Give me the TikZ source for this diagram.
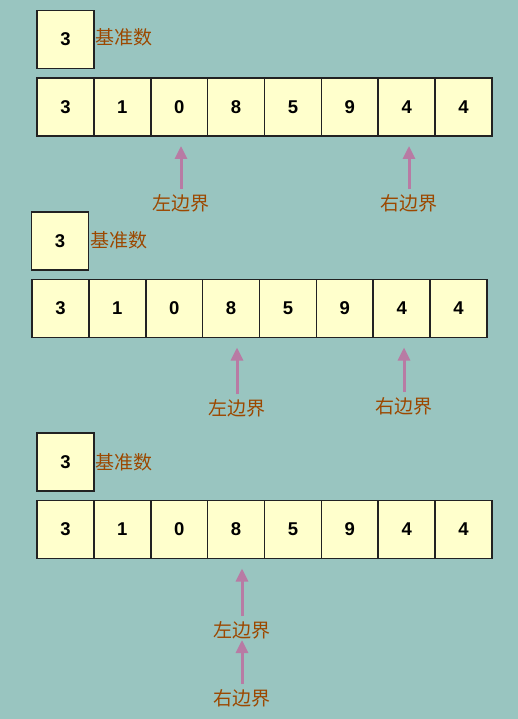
\documentclass[tikz,border=0pt]{standalone}
\usepackage{fontspec}
\setmainfont{Liberation Sans}
\newfontfamily\cjk{Noto Sans CJK SC}
\usepackage{xcolor}
\usetikzlibrary{arrows.meta,positioning}
\definecolor{bgteal}{HTML}{99C5C0}
\definecolor{cellyellow}{HTML}{FFFFCC}
\definecolor{cellborder}{HTML}{222222}
\definecolor{tagbrown}{HTML}{9C4800}
\definecolor{arrowpink}{HTML}{B87BA4}

\begin{document}
\begin{tikzpicture}[x=1pt, y=-1pt, >={Triangle[width=12pt,length=13pt]},
  every node/.style={font=\fontsize{18.5}{18.5}\selectfont\bfseries},
  cell/.style={rectangle, draw=cellborder, line width=1.6pt, fill=cellyellow, minimum width=56.9pt, minimum height=58pt, inner sep=0pt, outer sep=0pt},
  pivot/.style={cell, minimum width=57pt},
  tag/.style={font=\cjk\fontsize{19}{19}\selectfont, text=tagbrown, inner sep=0pt},
  pointer/.style={->, line width=3pt, draw=arrowpink, fill=arrowpink, shorten <=5pt, shorten >=10pt}
]

% Background
\fill[bgteal] (0,0) rectangle (518,719);
\useasboundingbox (0,0) rectangle (518,719);

% First step - pivot and array
\node[pivot] (pa) at (65.5,39.5) {3};
\node[tag, anchor=west] (basea) at (95,37) {基准数};
\node[cell] (ra0) at (65.4,107) {3};
\node[cell] (ra1) at (122.3,107) {1};
\node[cell] (ra2) at (179.2,107) {0};
\node[cell] (ra3) at (236.1,107) {8};
\node[cell] (ra4) at (293.0,107) {5};
\node[cell] (ra5) at (349.8,107) {9};
\node[cell] (ra6) at (406.7,107) {4};
\node[cell] (ra7) at (463.6,107) {4};
\node[tag] (lefta) at (181,203) {左边界};
\node[tag] (righta) at (409,203) {右边界};

% Second step - pivot and array (shifted left)
\node[pivot] (pb) at (60,241) {3};
\node[tag, anchor=west] (baseb) at (90,240) {基准数};
\node[cell] (rb0) at (60.4,308.5) {3};
\node[cell] (rb1) at (117.3,308.5) {1};
\node[cell] (rb2) at (174.2,308.5) {0};
\node[cell] (rb3) at (231.1,308.5) {8};
\node[cell] (rb4) at (288.0,308.5) {5};
\node[cell] (rb5) at (344.8,308.5) {9};
\node[cell] (rb6) at (401.7,308.5) {4};
\node[cell] (rb7) at (458.6,308.5) {4};
\node[tag] (leftb) at (237,408) {左边界};
\node[tag] (rightb) at (404,406) {右边界};

% Third step - pivot and array
\node[pivot] (pc) at (65.5,462) {3};
\node[tag, anchor=west] (basec) at (95,462) {基准数};
\node[cell] (rc0) at (65.4,529.5) {3};
\node[cell] (rc1) at (122.3,529.5) {1};
\node[cell] (rc2) at (179.2,529.5) {0};
\node[cell] (rc3) at (236.1,529.5) {8};
\node[cell] (rc4) at (293.0,529.5) {5};
\node[cell] (rc5) at (349.8,529.5) {9};
\node[cell] (rc6) at (406.7,529.5) {4};
\node[cell] (rc7) at (463.6,529.5) {4};
\node[tag] (leftc) at (242,630) {左边界};
\node[tag] (rightc) at (242,698) {右边界};

% Arrows - bounds pointing at cells
\draw[pointer] (lefta.north) -- (lefta.north |- ra2.south);
\draw[pointer] (righta.north) -- (righta.north |- ra6.south);
\draw[pointer] (leftb.north) -- (leftb.north |- rb3.south);
\draw[pointer] (rightb.north) -- (rightb.north |- rb6.south);
\draw[pointer] (leftc.north) -- (leftc.north |- rc3.south);
\draw[pointer, shorten >=1pt] (rightc.north) -- (leftc.south);

\end{tikzpicture}
\end{document}
